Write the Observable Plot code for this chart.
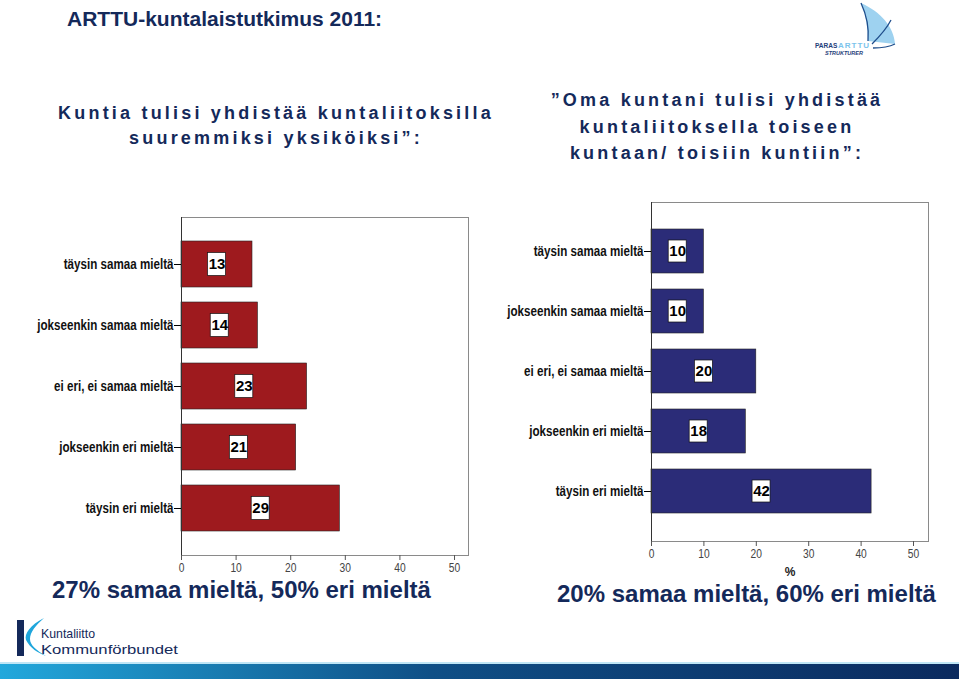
<!DOCTYPE html>
<html><head><meta charset="utf-8">
<script src="https://cdn.jsdelivr.net/npm/d3@7"></script>
<script src="https://cdn.jsdelivr.net/npm/@observablehq/plot@0.6"></script>
<style>
body{margin:0;background:#fff;}
#page{position:relative;width:959px;height:679px;overflow:hidden;background:#fff;font-family:"Liberation Sans",Arial,sans-serif;}
.abs{position:absolute;}
.navy{color:#14295a;}
.q{font-weight:bold;font-size:18px;letter-spacing:3.2px;text-align:center;line-height:24.5px;color:#14295a;white-space:nowrap;}
.sum{font-weight:bold;font-size:24px;color:#14295a;white-space:nowrap;}
</style></head>
<body><div id="page">
<div class="abs navy" style="left:67px;top:7px;font-size:21px;font-weight:bold;">ARTTU-kuntalaistutkimus 2011:</div>
<div class="abs q" style="left:20px;width:512px;top:101px;">Kuntia tulisi yhdistää kuntaliitoksilla<br>suuremmiksi yksiköiksi”:</div>
<div class="abs q" style="left:500px;width:434px;top:87px;line-height:26.5px;">”Oma kuntani tulisi yhdistää<br>kuntaliitoksella toiseen<br>kuntaan/ toisiin kuntiin”:</div>
<div id="left" class="abs" style="left:0;top:200px;"></div>
<div id="right" class="abs" style="left:480px;top:190px;"></div>
<div class="abs sum" style="left:52px;top:576px;">27% samaa mieltä, 50% eri mieltä</div>
<div class="abs sum" style="left:557px;top:580px;">20% samaa mieltä, 60% eri mieltä</div>
<svg class="abs" style="left:0;top:0" width="959" height="679">
  <defs><linearGradient id="band" x1="0" x2="1"><stop offset="0" stop-color="#22a8dc"/><stop offset="0.45" stop-color="#0f4f86"/><stop offset="1" stop-color="#0b2a5e"/></linearGradient></defs>
  <rect x="0" y="664" width="959" height="15" fill="url(#band)"/>
  <rect x="0" y="662" width="959" height="2" fill="#bfe6f6"/>
  <!-- Kuntaliitto logo -->
  <rect x="17" y="620" width="7" height="36" fill="#14295a"/>
  <path d="M44,618 C30,625 24,634 26,640 C30,648 38,653 46,656 C36,650 30,645 30,639 C30,632 36,625 44,618 Z" fill="#1fa6dc"/>
  <text x="41" y="638" font-size="13" fill="#14295a" textLength="54" lengthAdjust="spacingAndGlyphs">Kuntaliitto</text>
  <text x="41" y="654" font-size="13" fill="#14295a" textLength="137" lengthAdjust="spacingAndGlyphs">Kommunförbundet</text>
  <!-- PARAS ARTTU logo -->
  <path d="M861,3 C881,12 894,27 895,44 L868,41 C868,28 866,14 861,3 Z" fill="#9ed2f0"/>
  <path d="M861,3 C867,16 869,30 868,41 M872,44 C882,34 888,26 891,20 M873,48 C884,48 891,46 895,44" fill="none" stroke="#1f4e8c" stroke-width="1.3"/>
  <text x="815" y="48" font-size="6.5" font-weight="bold" fill="#1f3e7a">PARAS</text>
  <text x="838" y="48" font-size="8" font-weight="bold" fill="#7cc4ec" letter-spacing="1">ARTTU</text>
  <text x="825" y="55" font-size="5.5" font-weight="bold" font-style="italic" fill="#1f3e7a">STRUKTURER</text>
</svg>
</div>
<script>
const categories = ["täysin samaa mieltä","jokseenkin samaa mieltä","ei eri, ei samaa mieltä","jokseenkin eri mieltä","täysin eri mieltä"];
const leftValues = [13, 14, 23, 21, 29];
const rightValues = [10, 10, 20, 18, 42];
const xTicks = [0, 10, 20, 30, 40, 50];

// narrow the glyphs of a text group horizontally (condensed look), keeping anchors in place
function condense(svg, label, sx) {
  svg.querySelectorAll(`g[aria-label="${label}"] text`).forEach(t => {
    const xa = t.getAttribute("x");
    if (xa != null && !isNaN(+xa)) t.setAttribute("x", +xa / sx);
    const old = t.getAttribute("transform") || "";
    t.setAttribute("transform", `${old} scale(${sx},1)`);
  });
}

function chart(values, opts) {
  const data = categories.map((c, i) => ({cat: c, v: values[i]}));
  const svg = Plot.plot({
    width: opts.width, height: opts.height,
    marginLeft: opts.ml, marginRight: opts.mr, marginTop: opts.mt, marginBottom: opts.mb,
    style: {background: "transparent", overflow: "visible", fontFamily: "Liberation Sans, Arial, sans-serif"},
    x: {domain: [0, opts.xmax], ticks: xTicks},
    y: {domain: categories, paddingInner: opts.pi, paddingOuter: opts.po},
    marks: [
      Plot.frame({stroke: "#8a8a8a"}),
      Plot.barX(data, {x: "v", y: "cat", fill: opts.color, stroke: "#222", strokeWidth: 0.6}),
      Plot.ruleX([0], {stroke: "#333"}),
      Plot.barX(data, {x1: d => d.v / 2, x2: d => d.v / 2, y: "cat", insetLeft: -9, insetRight: -9, insetTop: opts.boxInset, insetBottom: opts.boxInset, fill: "white", stroke: "#111", strokeWidth: 0.7}),
      Plot.text(data, {x: d => d.v / 2, y: "cat", text: d => String(d.v), fontSize: 15, fontWeight: "bold", fill: "#000", ariaLabel: "value label"}),
      Plot.axisY({tickSize: 7, tickPadding: 1, fontSize: 14, fontWeight: "bold", fill: "#111", label: null}),
      Plot.axisX({ticks: xTicks, tickSize: 5, tickPadding: 3, fontSize: 12.5, fill: "#444", stroke: "#555", label: null}),
      ...(opts.xlabel ? [Plot.axisX({ticks: [], tickSize: 0, label: opts.xlabel, labelArrow: "none", labelAnchor: "center", labelOffset: 34, fontSize: 12, fontWeight: "bold", fill: "#222"})] : [])
    ]
  });
  condense(svg, "y-axis tick label", 0.83);
  condense(svg, "x-axis tick label", 0.82);
  condense(svg, "value label", 0.85);
  return svg;
}

document.getElementById("left").append(chart(leftValues, {
  width: 480, height: 390, ml: 181, mr: 12, mt: 17, mb: 35,
  xmax: 52.56, pi: 0.245, po: 0.38, color: "#9e1a1e", boxInset: 11.5, xlabel: null
}));
document.getElementById("right").append(chart(rightValues, {
  width: 460, height: 400, ml: 171, mr: 12, mt: 12, mb: 49,
  xmax: 52.86, pi: 0.26, po: 0.42, color: "#2b2c78", boxInset: 11, xlabel: "%"
}));
</script>
</body></html>
